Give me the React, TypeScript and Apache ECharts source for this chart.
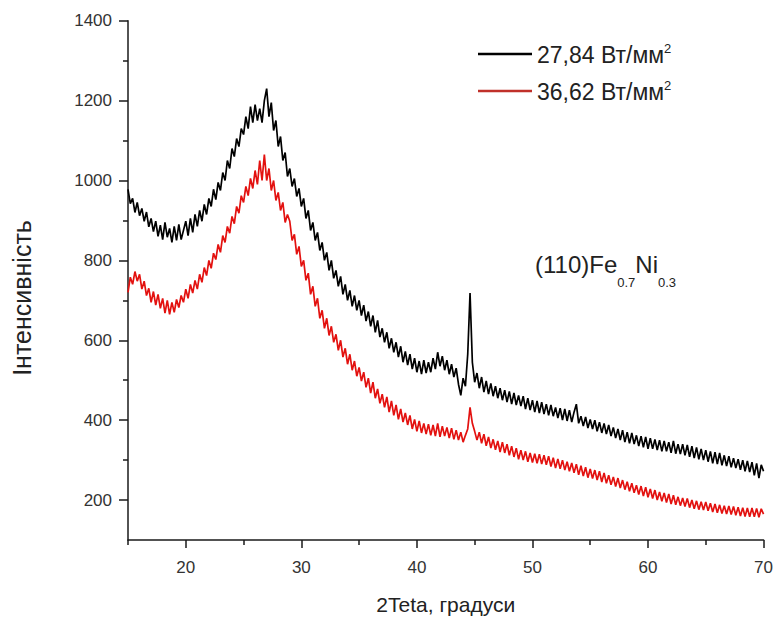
import React, { useEffect, useRef } from 'react';
import * as echarts from 'echarts';

// 2Theta sampling grid (degrees)
const ANGLE_START = 15;
const ANGLE_STEP = 0.2;

// Intensity, 27,84 Вт/мм² (black), one value per 0.2°
const intensityBlack = [
  978, 942, 955, 920, 945, 912, 930, 898, 921, 884,
  905, 872, 898, 860, 888, 852, 895, 858, 880, 845,
  885, 850, 890, 852, 875, 898, 862, 905, 870, 915,
  885, 925, 898, 940, 915, 955, 935, 978, 952, 995,
  975, 1020, 1000, 1050, 1030, 1080, 1060, 1105, 1085, 1130,
  1115, 1160, 1130, 1185, 1145, 1190, 1150, 1180, 1145, 1200,
  1230, 1160, 1195, 1125, 1150, 1085, 1110, 1050, 1070, 1010,
  1030, 985, 1005, 960, 980, 935, 955, 905, 925, 875,
  895, 850, 870, 825, 845, 800, 820, 775, 800, 755,
  775, 735, 760, 715, 740, 700, 725, 685, 712, 675,
  700, 662, 688, 648, 672, 635, 662, 620, 650, 608,
  630, 595, 620, 580, 605, 570, 595, 558, 585, 545,
  572, 538, 565, 528, 555, 520, 548, 515, 550, 518,
  545, 520, 555, 528, 570, 535, 560, 525, 550, 515,
  540, 508, 530, 490, 462, 505, 485, 565, 718, 545,
  495, 518, 480, 508, 470, 498, 465, 492, 460, 485,
  455, 480, 450, 475, 445, 472, 440, 468, 438, 462,
  435, 460, 428, 455, 425, 450, 420, 448, 418, 445,
  415, 440, 412, 438, 410, 432, 405, 430, 400, 428,
  398, 425, 395, 420, 440, 392, 410, 385, 408, 380,
  402, 378, 400, 372, 395, 368, 392, 365, 388, 360,
  382, 355, 378, 350, 375, 345, 370, 342, 368, 340,
  362, 335, 360, 332, 358, 328, 355, 328, 352, 325,
  350, 322, 348, 322, 345, 318, 348, 316, 340, 315,
  340, 312, 338, 308, 335, 305, 332, 302, 328, 300,
  325, 296, 322, 292, 320, 290, 318, 287, 312, 285,
  310, 282, 305, 280, 302, 276, 300, 272, 298, 270,
  295, 262, 292, 255, 288, 272,
];

// Intensity, 36,62 Вт/мм² (red)
const intensityRed = [
  720, 758, 740, 772, 748, 765, 728, 748, 712, 730,
  695, 722, 688, 715, 680, 705, 668, 700, 665, 695,
  670, 702, 682, 712, 695, 728, 705, 740, 718, 750,
  728, 765, 745, 782, 762, 800, 780, 818, 802, 840,
  820, 862, 845, 885, 868, 910, 892, 935, 918, 962,
  945, 985, 962, 1005, 980, 1025, 990, 1050, 1000, 1065,
  1000, 1030, 975, 1000, 950, 970, 925, 945, 895, 915,
  898, 850, 865, 815, 835, 785, 800, 750, 768, 715,
  735, 685, 705, 655, 675, 630, 655, 612, 635, 595,
  615, 575, 600, 558, 580, 540, 565, 525, 548, 510,
  532, 498, 520, 482, 505, 468, 495, 455, 478, 442,
  465, 432, 458, 420, 448, 412, 438, 402, 428, 395,
  418, 388, 412, 378, 402, 372, 398, 368, 392, 365,
  390, 362, 388, 360, 392, 358, 385, 360, 382, 355,
  380, 352, 375, 350, 370, 345, 362, 378, 432, 392,
  372, 350, 370, 342, 365, 336, 358, 330, 352, 326,
  348, 320, 345, 318, 340, 312, 335, 308, 330, 302,
  325, 300, 322, 296, 318, 294, 316, 292, 315, 290,
  312, 288, 310, 284, 306, 280, 303, 278, 300, 275,
  296, 272, 293, 268, 290, 263, 286, 260, 282, 256,
  278, 254, 275, 250, 272, 245, 268, 242, 262, 238,
  258, 234, 255, 230, 250, 226, 246, 222, 242, 218,
  237, 214, 235, 210, 232, 207, 228, 204, 225, 200,
  220, 197, 218, 194, 215, 190, 212, 188, 208, 186,
  205, 184, 204, 181, 200, 178, 198, 176, 196, 175,
  195, 173, 192, 170, 190, 168, 188, 166, 186, 165,
  185, 164, 184, 162, 182, 160, 181, 159, 180, 158,
  180, 158, 179, 157, 178, 165,
];

const SERIES_NAMES = ['27,84 Вт/мм²', '36,62 Вт/мм²'];
const X_LABEL_TICKS = [20, 30, 40, 50, 60, 70];
const X_MINOR_TICKS = [15, 25, 35, 45, 55, 65];
const Y_LABEL_TICKS = [200, 400, 600, 800, 1000, 1200, 1400];
const Y_MINOR_TICKS = [300, 500, 700, 900, 1100, 1300];
const X_TITLE = '2Teta, градуси';
const Y_TITLE = 'Інтенсивність';

const FONT = '"Liberation Sans", Arial, Helvetica, sans-serif';
const TEXT = '#222';
const AXIS = '#1a1a1a';

const toPairs = (vals: number[]) =>
  vals.map((v, i) => [Number((ANGLE_START + i * ANGLE_STEP).toFixed(1)), v]);

export default function App() {
  const ref = useRef<HTMLDivElement>(null);

  useEffect(() => {
    if (!ref.current) return;
    const chart = echarts.init(ref.current, undefined, { renderer: 'svg' });
    const axisLineStyle = { color: AXIS, width: 1.5 };
    chart.setOption({
      animation: false,
      backgroundColor: '#ffffff',
      grid: { left: 128, right: 10.5, top: 20.7, bottom: 80, containLabel: false },
      legend: {
        orient: 'vertical',
        left: 478,
        top: 42,
        padding: 0,
        itemWidth: 54,
        itemHeight: 2.5,
        itemGap: 13,
        icon: 'rect',
        data: SERIES_NAMES,
        formatter: (name: string) => `{a|${name.replace('²', '')}}{s|2}`,
        textStyle: {
          color: TEXT,
          fontFamily: FONT,
          rich: {
            a: { fontSize: 23, lineHeight: 24, verticalAlign: 'bottom', fontFamily: FONT, color: TEXT },
            s: { fontSize: 13, lineHeight: 10, verticalAlign: 'top', fontFamily: FONT, color: TEXT },
          },
        },
      },
      xAxis: [
        {
          type: 'value',
          min: 15,
          max: 70,
          position: 'bottom',
          name: X_TITLE,
          nameLocation: 'middle',
          nameGap: 54,
          nameTextStyle: { fontSize: 21, fontFamily: FONT, color: TEXT },
          axisLine: { show: true, lineStyle: axisLineStyle },
          axisTick: { show: true, inside: false, length: 8, customValues: X_LABEL_TICKS, lineStyle: axisLineStyle },
          axisLabel: { customValues: X_LABEL_TICKS, margin: 19, fontSize: 17, fontFamily: FONT, color: '#333' },
          splitLine: { show: false },
        },
        {
          type: 'value',
          min: 15,
          max: 70,
          position: 'bottom',
          axisLine: { show: false },
          axisTick: { show: true, inside: false, length: 5, customValues: X_MINOR_TICKS, lineStyle: axisLineStyle },
          axisLabel: { show: false },
          splitLine: { show: false },
        },
      ],
      yAxis: [
        {
          type: 'value',
          min: 100,
          max: 1400,
          position: 'left',
          axisLine: { show: true, lineStyle: axisLineStyle },
          axisTick: { show: true, inside: false, length: 9, customValues: Y_LABEL_TICKS, lineStyle: axisLineStyle },
          axisLabel: {
            customValues: Y_LABEL_TICKS,
            margin: 16,
            fontSize: 17,
            fontFamily: FONT,
            color: '#333',
            formatter: (v: number) => String(v),
          },
          splitLine: { show: false },
        },
        {
          type: 'value',
          min: 100,
          max: 1400,
          position: 'left',
          axisLine: { show: false },
          axisTick: { show: true, inside: false, length: 5, customValues: Y_MINOR_TICKS, lineStyle: axisLineStyle },
          axisLabel: { show: false },
          splitLine: { show: false },
        },
      ],
      graphic: [
        {
          type: 'text',
          x: 22,
          y: 298,
          rotation: Math.PI / 2,
          style: {
            text: Y_TITLE,
            align: 'center',
            verticalAlign: 'middle',
            fontSize: 25,
            fontFamily: FONT,
            fill: TEXT,
          },
        },
        {
          type: 'text',
          x: 535,
          y: 252,
          style: {
            text: '{m|(110)Fe}{s|0.7}{m|Ni}{s|0.3}',
            align: 'left',
            verticalAlign: 'top',
            rich: {
              m: { fontSize: 24, lineHeight: 24, verticalAlign: 'top', fontFamily: FONT, fill: TEXT },
              s: { fontSize: 13, lineHeight: 37, verticalAlign: 'bottom', fontFamily: FONT, fill: TEXT },
            },
          },
        },
      ],
      series: [
        {
          name: SERIES_NAMES[0],
          type: 'line',
          xAxisIndex: 0,
          yAxisIndex: 0,
          showSymbol: false,
          symbol: 'none',
          lineStyle: { color: '#000000', width: 1.7 },
          itemStyle: { color: '#000000' },
          data: toPairs(intensityBlack),
        },
        {
          name: SERIES_NAMES[1],
          type: 'line',
          xAxisIndex: 0,
          yAxisIndex: 0,
          showSymbol: false,
          symbol: 'none',
          lineStyle: { color: '#e3110f', width: 1.7 },
          itemStyle: { color: '#c0302a' },
          data: toPairs(intensityRed),
        },
      ],
    });
    return () => chart.dispose();
  }, []);

  return (
    <div
      ref={ref}
      style={{ position: 'fixed', left: 0, top: 0, width: 776, height: 620, background: '#fff' }}
    />
  );
}
